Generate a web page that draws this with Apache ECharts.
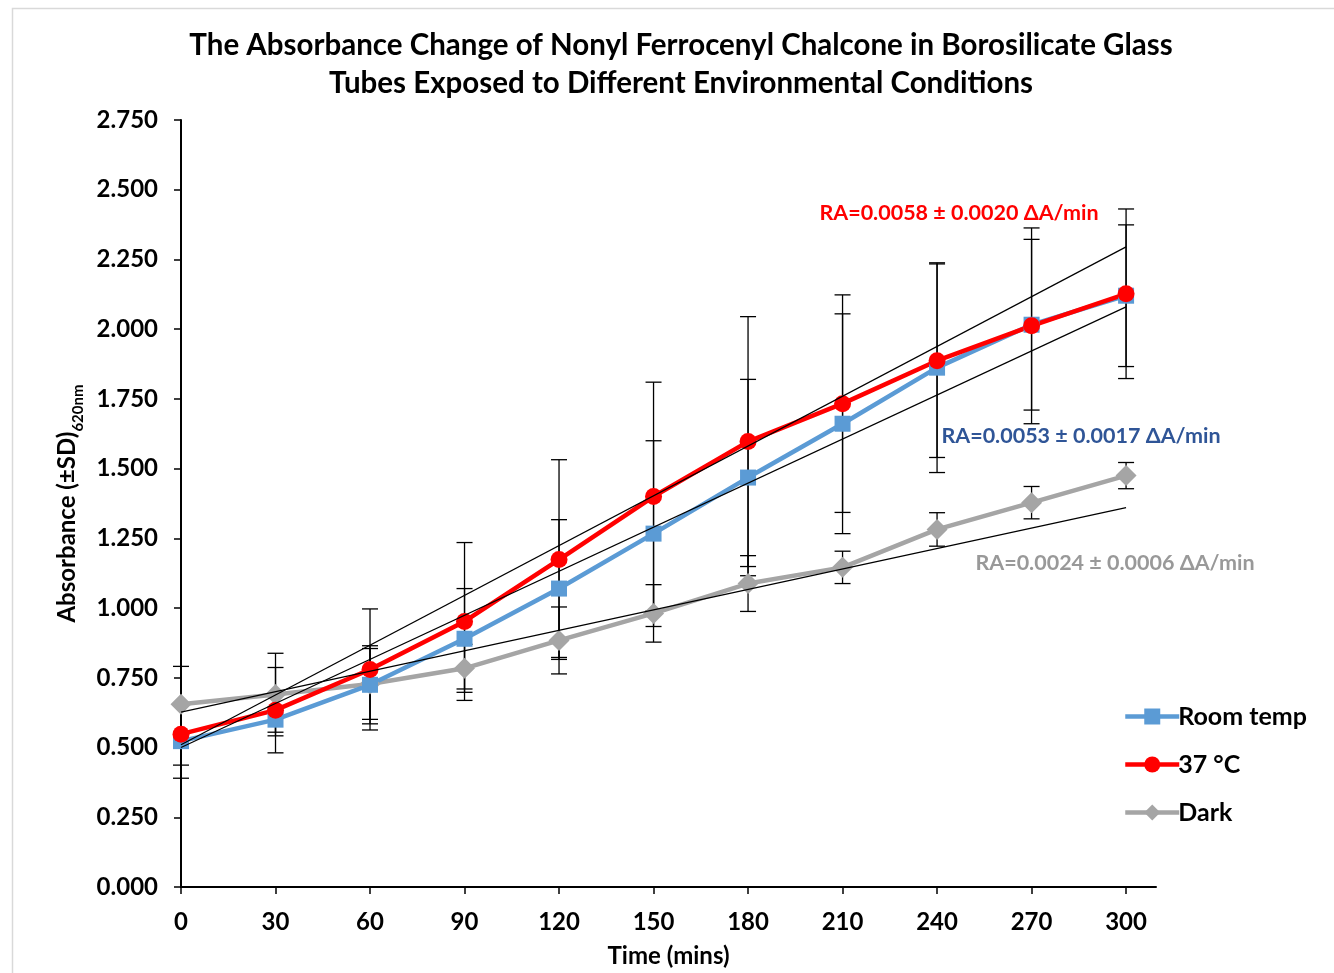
<!DOCTYPE html>
<html>
<head>
<meta charset="utf-8">
<script src="https://cdn.jsdelivr.net/npm/echarts@6/dist/echarts.min.js"></script>
<style>html,body{margin:0;padding:0;background:#fff;}#c{width:1334px;height:973px;}</style>
</head>
<body>
<div id="c"></div>
<script>
// ---- data ----
const times = [0, 30, 60, 90, 120, 150, 180, 210, 240, 270, 300];
const roomTemp = [0.523, 0.600, 0.725, 0.890, 1.070, 1.267, 1.468, 1.661, 1.862, 2.016, 2.120];
const temp37 = [0.548, 0.634, 0.780, 0.952, 1.174, 1.400, 1.597, 1.733, 1.887, 2.012, 2.127];
const dark = [0.655, 0.690, 0.728, 0.784, 0.884, 0.981, 1.088, 1.146, 1.282, 1.378, 1.475];
const roomTempSD = [0.133, 0.045, 0.140, 0.180, 0.247, 0.333, 0.352, 0.394, 0.376, 0.306, 0.254];
const temp37SD = [0.111, 0.153, 0.217, 0.283, 0.358, 0.410, 0.448, 0.390, 0.347, 0.351, 0.304];
const darkSD = [0.136, 0.148, 0.127, 0.086, 0.120, 0.103, 0.100, 0.058, 0.060, 0.058, 0.047];
// trendline end points (value at t=0 and t=300)
const trendTimes = [0, 300];
const roomTempTrend = [0.500, 2.080];
const temp37Trend = [0.510, 2.295];
const darkTrend = [0.627, 1.360];
const xTicks = [0, 30, 60, 90, 120, 150, 180, 210, 240, 270, 300];
const seriesNames = ['Room temp', '37 °C', 'Dark'];
const annotations = ['RA=0.0058 ± 0.0020 ΔA/min', 'RA=0.0053 ± 0.0017 ΔA/min', 'RA=0.0024 ± 0.0006 ΔA/min'];

const FONT = 'Lato';
const pairs = (xs, ys) => xs.map((x, i) => [x, ys[i]]);
const errData = (xs, ys, sd) => xs.map((x, i) => [x, ys[i], sd[i]]);

function errorBar(params, api) {
  const x = api.value(0), m = api.value(1), s = api.value(2);
  const t = api.coord([x, m + s]);
  const b = api.coord([x, m - s]);
  const cw = 8;
  const st = { stroke: '#000', lineWidth: 1.3 };
  return {
    type: 'group',
    children: [
      { type: 'line', shape: { x1: t[0], y1: t[1], x2: b[0], y2: b[1] }, style: st },
      { type: 'line', shape: { x1: t[0] - cw, y1: t[1], x2: t[0] + cw, y2: t[1] }, style: st },
      { type: 'line', shape: { x1: b[0] - cw, y1: b[1], x2: b[0] + cw, y2: b[1] }, style: st }
    ]
  };
}

const chart = echarts.init(document.getElementById('c'), null, { renderer: 'canvas' });
const colors = ['#5B9BD5', '#FF0000', '#A5A5A5'];

const option = {
  backgroundColor: '#fff',
  animation: false,
  textStyle: { fontFamily: FONT },
  grid: { left: 181, right: 178, top: 120, bottom: 85 },
  xAxis: {
    type: 'value', min: 0, max: 309.5,
    name: 'Time (mins)', nameLocation: 'middle', nameGap: 57,
    nameTextStyle: { fontFamily: FONT, fontWeight: 'bold', fontSize: 24, color: '#000' },
    axisLine: { show: true, lineStyle: { color: '#000', width: 2 } },
    axisTick: { show: true, inside: false, length: 7, customValues: xTicks, lineStyle: { color: '#000', width: 1.5 } },
    axisLabel: { customValues: xTicks, fontFamily: FONT, fontWeight: 'bold', fontSize: 24, color: '#000', margin: 23 },
    splitLine: { show: false }
  },
  yAxis: {
    type: 'value', min: 0, max: 2.75, interval: 0.25,
    name: '{a|Absorbance (±SD)}{b|620nm}', nameLocation: 'middle', nameGap: 96, nameRotate: 90,
    nameTextStyle: {
      rich: {
        a: { fontFamily: FONT, fontWeight: 'bold', fontSize: 24, color: '#000', lineHeight: 30, verticalAlign: 'bottom' },
        b: { fontFamily: FONT, fontWeight: 'bold', fontSize: 15, color: '#000', lineHeight: 30, verticalAlign: 'bottom', padding: [0, 0, -6, 0] }
      }
    },
    axisLine: { show: true, lineStyle: { color: '#000', width: 2 } },
    axisTick: { show: true, inside: false, length: 7, lineStyle: { color: '#000', width: 1.5 } },
    axisLabel: { fontFamily: FONT, fontWeight: 'bold', fontSize: 24, color: '#000', margin: 23,
      formatter: v => v.toFixed(3) },
    splitLine: { show: false }
  },
  legend: {
    orient: 'vertical', left: 1118, top: 699,
    itemWidth: 54, itemHeight: 20, itemGap: 23,
    data: seriesNames,
    lineStyle: { width: 4.5 },
    textStyle: { fontFamily: FONT, fontWeight: 'bold', fontSize: 25, color: '#000', padding: [0, 0, 0, -6] }
  },
  series: [
    { type: 'custom', name: 'err-room', renderItem: errorBar, data: errData(times, roomTemp, roomTempSD), z: 1, silent: true, encode: { x: 0, y: [1] } },
    { type: 'custom', name: 'err-37', renderItem: errorBar, data: errData(times, temp37, temp37SD), z: 1, silent: true, encode: { x: 0, y: [1] } },
    { type: 'custom', name: 'err-dark', renderItem: errorBar, data: errData(times, dark, darkSD), z: 1, silent: true, encode: { x: 0, y: [1] } },
    { type: 'line', name: seriesNames[2], data: pairs(times, dark), z: 2, color: colors[2],
      lineStyle: { width: 4.5, color: colors[2] }, symbol: 'diamond', symbolSize: 21,
      itemStyle: { color: colors[2] } },
    { type: 'line', name: seriesNames[0], data: pairs(times, roomTemp), z: 2, color: colors[0],
      lineStyle: { width: 4.5, color: colors[0] }, symbol: 'rect', symbolSize: 16,
      itemStyle: { color: colors[0] } },
    { type: 'line', name: seriesNames[1], data: pairs(times, temp37), z: 2, color: colors[1],
      lineStyle: { width: 4.5, color: colors[1] }, symbol: 'circle', symbolSize: 17,
      itemStyle: { color: colors[1] } },
    { type: 'line', name: 'trend-room', data: pairs(trendTimes, roomTempTrend), z: 3, symbol: 'none', silent: true,
      lineStyle: { width: 1.2, color: '#000' } },
    { type: 'line', name: 'trend-37', data: pairs(trendTimes, temp37Trend), z: 3, symbol: 'none', silent: true,
      lineStyle: { width: 1.2, color: '#000' } },
    { type: 'line', name: 'trend-dark', data: pairs(trendTimes, darkTrend), z: 3, symbol: 'none', silent: true,
      lineStyle: { width: 1.2, color: '#000' } }
  ],
  graphic: [
    { type: 'rect', left: 10, top: 6, shape: { width: 1340, height: 990 }, silent: true,
      style: { fill: 'none', stroke: '#D9D9D9', lineWidth: 1.5 }, z: -10 },
    { type: 'text', x: 681, y: 64, silent: true,
      style: { text: 'The Absorbance Change of Nonyl Ferrocenyl Chalcone in Borosilicate Glass\nTubes Exposed to Different Environmental Conditions',
        font: 'bold 29.5px Lato', fill: '#000', align: 'center', verticalAlign: 'middle', lineHeight: 38 } },
    { type: 'text', x: 959, y: 213, silent: true,
      style: { text: annotations[0], font: 'bold 21.5px Lato', fill: '#FF0000', align: 'center', verticalAlign: 'middle' } },
    { type: 'text', x: 1081, y: 436, silent: true,
      style: { text: annotations[1], font: 'bold 21.5px Lato', fill: '#2F5597', align: 'center', verticalAlign: 'middle' } },
    { type: 'text', x: 1115, y: 563, silent: true,
      style: { text: annotations[2], font: 'bold 21.5px Lato', fill: '#999999', align: 'center', verticalAlign: 'middle' } }
  ]
};
chart.setOption(option);
</script>
</body>
</html>
